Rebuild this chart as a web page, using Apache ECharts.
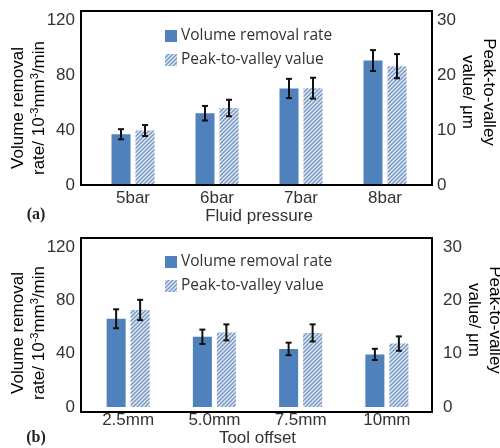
<!DOCTYPE html>
<html>
<head>
<meta charset="utf-8">
<script src="https://cdn.jsdelivr.net/npm/echarts@6/dist/echarts.min.js"></script>
<style>
  html, body { margin: 0; padding: 0; background: #fff; }
  #main { width: 500px; height: 448px; }
</style>
</head>
<body>
<div id="main"></div>
<script>
// panel (a): fluid pressure
var pressureCats = ['5bar', '6bar', '7bar', '8bar'];
var pressureRate = [36.9, 52.2, 70.2, 90.5];
var pressureRateErr = [3.7, 5.3, 7.0, 7.6];
var pressurePv = [9.9, 14.0, 17.6, 21.6];
var pressurePvErr = [1.0, 1.5, 1.9, 2.2];

// panel (b): tool offset
var offsetCats = ['2.5mm', '5.0mm', '7.5mm', '10mm'];
var offsetRate = [66.2, 52.7, 43.6, 39.5];
var offsetRateErr = [7.1, 5.4, 4.7, 4.2];
var offsetPv = [18.2, 14.0, 13.9, 11.9];
var offsetPvErr = [1.9, 1.5, 1.6, 1.35];

var leftTicks = [0, 40, 80, 120];
var rightTicks = [0, 10, 20, 30];

var BLUE = '#4f81bd';
var FONT = 'Liberation Sans';
var TXT = '#333';

// hatched fill for peak-to-valley bars
var makeHatch = function () {
    var c = document.createElement('canvas');
    c.width = 4; c.height = 4;
    var ctx = c.getContext('2d');
    ctx.fillStyle = '#e3ebf5';
    ctx.fillRect(0, 0, 4, 4);
    ctx.strokeStyle = '#7898c6';
    ctx.lineWidth = 1.5;
    ctx.beginPath();
    ctx.moveTo(-1, 5); ctx.lineTo(5, -1);
    ctx.moveTo(-1, 1); ctx.lineTo(1, -1);
    ctx.moveTo(3, 5); ctx.lineTo(5, 3);
    ctx.stroke();
    return { image: c, repeat: 'repeat' };
};
var hatch = makeHatch();

var BAR_W = 19;
var GAP_PX = 5;
var half = (BAR_W + GAP_PX) / 2;

var errorSeries = function (name, gridIdx, yIdx, vals, errs, shift) {
    return {
        name: name,
        type: 'custom',
        xAxisIndex: gridIdx,
        yAxisIndex: yIdx,
        z: 5,
        data: vals.map(function (v, i) { return [i, v, errs[i]]; }),
        renderItem: function (params, api) {
            var x = api.value(0), v = api.value(1), e = api.value(2);
            var top = api.coord([x, v + e]);
            var bot = api.coord([x, v - e]);
            var cx = top[0] + shift;
            var st = { stroke: '#111', lineWidth: 2 };
            return {
                type: 'group',
                children: [
                    { type: 'line', shape: { x1: cx, y1: top[1], x2: cx, y2: bot[1] }, style: st },
                    { type: 'line', shape: { x1: cx - 3, y1: top[1], x2: cx + 3, y2: top[1] }, style: st },
                    { type: 'line', shape: { x1: cx - 3, y1: bot[1], x2: cx + 3, y2: bot[1] }, style: st }
                ]
            };
        }
    };
};

var xAxisFor = function (cats, gridIdx, title) {
    return {
        type: 'category',
        gridIndex: gridIdx,
        data: cats,
        axisLine: { show: false },
        axisTick: { show: false },
        axisLabel: { fontFamily: FONT, fontSize: 17, color: TXT, margin: 5 },
        name: title,
        nameLocation: 'middle',
        nameGap: 21,
        nameTextStyle: { fontFamily: FONT, fontSize: 17, color: TXT }
    };
};

var yAxisFor = function (gridIdx, pos, max, step, margin) {
    return {
        type: 'value',
        gridIndex: gridIdx,
        position: pos,
        min: 0,
        max: max,
        interval: step,
        axisLine: { show: false },
        axisTick: { show: false },
        splitLine: { show: false },
        axisLabel: { fontFamily: FONT, fontSize: 17, color: TXT, margin: margin }
    };
};

var legendFor = function (top) {
    return {
        data: ['Volume removal rate', 'Peak-to-valley value'],
        orient: 'vertical', left: 160, top: top,
        itemWidth: 12, itemHeight: 12, itemGap: 8,
        icon: 'rect',
        textStyle: { fontFamily: 'Open Sans', fontSize: 15.5, color: TXT, padding: [0, 0, 0, -1] }
    };
};

var myChart = echarts.init(document.getElementById('main'), null, { renderer: 'canvas' });

var titleRich = {
    t: { fontFamily: FONT, fontSize: 17, color: TXT, lineHeight: 21 },
    s: { fontFamily: FONT, fontSize: 11, color: TXT, lineHeight: 21, padding: [0, 0, 9, 0] }
};
var leftTitle = '{t|Volume removal}\n{t|rate/ 10}{s|-3}{t|mm}{s|3}{t|/min}';
var rightTitle = '{t|Peak-to-valley}\n{t|value/ \u03bcm}';

var textEl = function (txt, x, y, rot) {
    return {
        type: 'text', x: x, y: y, rotation: rot, z: 10,
        style: { text: txt, rich: titleRich, align: 'center', verticalAlign: 'middle' }
    };
};
var labelEl = function (txt, x, y) {
    return {
        type: 'text', x: x, y: y, z: 10,
        style: { text: txt, fontFamily: 'Liberation Serif', fontWeight: 'bold', fontSize: 16, fill: '#222', align: 'center', verticalAlign: 'middle' }
    };
};
var boxEl = function (y) {
    return {
        type: 'rect', z: 10, silent: true,
        shape: { x: 81, y: y, width: 351, height: 174 },
        style: { fill: 'none', stroke: '#000', lineWidth: 2 }
    };
};

myChart.setOption({
    backgroundColor: '#fff',
    animation: false,
    grid: [
        { left: 91, right: 73, top: 20, height: 165 },
        { left: 85, right: 70, top: 247, height: 165 }
    ],
    legend: [legendFor(23), legendFor(249)],
    xAxis: [
        xAxisFor(pressureCats, 0, 'Fluid pressure'),
        xAxisFor(offsetCats, 1, 'Tool offset')
    ],
    yAxis: [
        yAxisFor(0, 'left', leftTicks[3], leftTicks[1], 16),
        yAxisFor(0, 'right', rightTicks[3], rightTicks[1], 10),
        yAxisFor(1, 'left', leftTicks[3], leftTicks[1], 10),
        yAxisFor(1, 'right', rightTicks[3], rightTicks[1], 13)
    ],
    series: [
        { name: 'Volume removal rate', type: 'bar', xAxisIndex: 0, yAxisIndex: 0, data: pressureRate,
          barWidth: BAR_W, barGap: (GAP_PX / BAR_W * 100) + '%', itemStyle: { color: BLUE } },
        { name: 'Peak-to-valley value', type: 'bar', xAxisIndex: 0, yAxisIndex: 1, data: pressurePv,
          barWidth: BAR_W, itemStyle: { color: hatch } },
        { name: 'Volume removal rate', type: 'bar', xAxisIndex: 1, yAxisIndex: 2, data: offsetRate,
          barWidth: BAR_W, barGap: (GAP_PX / BAR_W * 100) + '%', itemStyle: { color: BLUE } },
        { name: 'Peak-to-valley value', type: 'bar', xAxisIndex: 1, yAxisIndex: 3, data: offsetPv,
          barWidth: BAR_W, itemStyle: { color: hatch } },
        errorSeries('errA1', 0, 0, pressureRate, pressureRateErr, -half),
        errorSeries('errA2', 0, 1, pressurePv, pressurePvErr, half),
        errorSeries('errB1', 1, 2, offsetRate, offsetRateErr, -half),
        errorSeries('errB2', 1, 3, offsetPv, offsetPvErr, half)
    ],
    graphic: [
        boxEl(11),
        boxEl(238),
        textEl(leftTitle, 29, 108, Math.PI / 2),
        textEl(rightTitle, 478, 92, -Math.PI / 2),
        textEl(leftTitle, 29, 333, Math.PI / 2),
        textEl(rightTitle, 484, 320, -Math.PI / 2),
        labelEl('(a)', 36, 215),
        labelEl('(b)', 36, 438)
    ]
});
</script>
</body>
</html>
